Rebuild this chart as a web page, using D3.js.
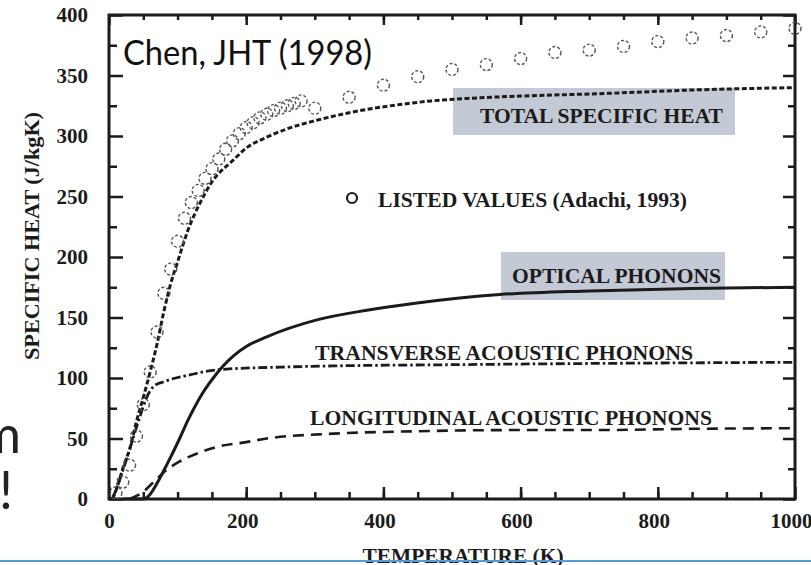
<!DOCTYPE html>
<html>
<head>
<meta charset="utf-8">
<script src="https://cdn.jsdelivr.net/npm/d3@7"></script>
<style>
  body { margin: 0; background: #fff; }
  svg { display: block; }
</style>
</head>
<body>
<svg id="chart" width="811" height="565"></svg>
<script>
// values (T in K, specific heat in J/kgK)
const totalT = [5, 12, 20, 31, 40, 50, 60, 70, 80, 90, 100, 115, 133, 150, 181, 200, 230, 260, 303, 340, 376, 424, 470, 521, 600, 716, 850, 1000];
const totalC = [0, 10, 25, 43, 64, 84, 105, 128, 155, 178, 196, 222, 245, 262, 280, 290, 299, 306, 313, 318, 322, 326, 329, 331, 333, 335, 338, 340];

const opticalT = [20, 50, 60, 70, 84, 103, 115, 123, 137, 152, 165, 181, 200, 230, 303, 376, 449, 570, 700, 850, 1000];
const opticalC = [0, 0, 4, 13, 28, 50, 65, 74, 88, 100, 109, 118, 126, 134, 148, 156, 162, 169, 172, 174, 175];

const transT = [5, 15, 25, 35, 45, 55, 65, 80, 113, 162, 250, 328, 500, 700, 1000];
const transC = [0, 15, 32, 50, 68, 84, 93, 97, 102, 107, 109, 110, 111, 112, 113];

const longT = [30, 50, 65, 84, 103, 130, 157, 200, 230, 327, 449, 600, 716, 850, 1000];
const longC = [0, 6, 14, 24, 31, 38, 43, 47, 50, 54, 56, 57, 57, 58, 58.5];

// listed values (Adachi, 1993)
const listedT = [10, 20, 30, 40, 50, 60, 70, 80, 90, 100, 110, 120, 130, 140, 150, 160, 170, 180, 190, 200, 210, 220, 230, 240, 250, 260, 270, 280,
                 300, 350, 400, 450, 500, 550, 600, 650, 700, 750, 800, 850, 900, 950, 1000];
const listedC = [5, 14, 28, 52, 78, 105, 138, 170, 190, 213, 232, 245, 255, 265, 273, 281, 289, 296, 302, 307, 311, 315, 318, 321, 323, 325, 327, 329,
                 323, 332, 342, 349, 355, 359, 364, 369, 371, 374, 378, 381, 383, 386, 389];

const xMajor = [0, 200, 400, 600, 800, 1000];
const yMajor = [0, 50, 100, 150, 200, 250, 300, 350, 400];

const serif = '"Liberation Serif", "Times New Roman", serif';
const ink = '#1b1b1b';

const svg = d3.select('#chart');

const x = d3.scaleLinear().domain([0, 1000]).range([109, 795]);
const y = d3.scaleLinear().domain([0, 400]).range([499, 15]);

// grey highlight boxes (sit under the scan)
svg.append('rect').attr('x', 453).attr('y', 88).attr('width', 282).attr('height', 47).attr('fill', '#c4cad5');
svg.append('rect').attr('x', 501).attr('y', 252).attr('width', 224).attr('height', 48).attr('fill', '#c4cad5');

// ticks
function styleAxis(g) {
    g.select('.domain').remove();
    g.selectAll('.tick line').attr('stroke', ink).attr('stroke-width', 2.5);
    g.selectAll('.tick text').attr('fill', ink).attr('font-family', serif)
        .attr('font-weight', 'bold').attr('font-size', 21);
}

svg.append('g').attr('transform', 'translate(0,499)')
    .call(d3.axisBottom(x).tickValues(d3.range(50, 1000, 50)).tickSize(-7).tickFormat(''))
    .call(styleAxis);
svg.append('g').attr('transform', 'translate(0,499)')
    .call(d3.axisBottom(x).tickValues(xMajor).tickSize(-12).tickPadding(14).tickFormat(d3.format('d')))
    .call(styleAxis)
    .selectAll('.tick text').attr('dx', d => d === 0 ? 0 : -4);

svg.append('g').attr('transform', 'translate(0,15)')
    .call(d3.axisTop(x).tickValues(d3.range(50, 1000, 50)).tickSize(-5).tickFormat(''))
    .call(styleAxis);
svg.append('g').attr('transform', 'translate(0,15)')
    .call(d3.axisTop(x).tickValues(xMajor).tickSize(-10).tickFormat(''))
    .call(styleAxis);

svg.append('g').attr('transform', 'translate(109,0)')
    .call(d3.axisLeft(y).tickValues(d3.range(25, 400, 50)).tickSize(-8).tickFormat(''))
    .call(styleAxis);
svg.append('g').attr('transform', 'translate(109,0)')
    .call(d3.axisLeft(y).tickValues(yMajor).tickSize(-14).tickPadding(21).tickFormat(d3.format('d')))
    .call(styleAxis);

svg.append('g').attr('transform', 'translate(795,0)')
    .call(d3.axisRight(y).tickValues(d3.range(25, 400, 50)).tickSize(-7).tickFormat(''))
    .call(styleAxis);
svg.append('g').attr('transform', 'translate(795,0)')
    .call(d3.axisRight(y).tickValues(yMajor).tickSize(-12).tickFormat(''))
    .call(styleAxis);

// frame
svg.append('rect').attr('x', 109).attr('y', 15).attr('width', 686).attr('height', 484)
    .attr('fill', 'none').attr('stroke', ink).attr('stroke-width', 3);

// curves
const line = d3.line().x(d => x(d[0])).y(d => y(d[1])).curve(d3.curveMonotoneX);

const curves = [
    { t: totalT, c: totalC, dash: '5,2.5', w: 3 },
    { t: opticalT, c: opticalC, dash: null, w: 3 },
    { t: transT, c: transC, dash: '9,3,2.5,3', w: 2.8 },
    { t: longT, c: longC, dash: '11,7', w: 2.6 }
];

curves.forEach(s => {
    svg.append('path')
        .datum(d3.zip(s.t, s.c))
        .attr('d', line)
        .attr('fill', 'none')
        .attr('stroke', ink)
        .attr('stroke-width', s.w)
        .attr('stroke-dasharray', s.dash);
});

// listed values
svg.append('g').selectAll('circle')
    .data(d3.zip(listedT, listedC))
    .join('circle')
    .attr('cx', d => x(d[0]))
    .attr('cy', d => y(d[1]))
    .attr('r', 6)
    .attr('fill', 'none')
    .attr('stroke', '#555')
    .attr('stroke-width', 1.4)
    .attr('stroke-dasharray', '3,2');

// labels inside the plot
const labels = [
    { text: 'TOTAL SPECIFIC HEAT', x: 480, y: 123, len: 243 },
    { text: 'LISTED VALUES (Adachi, 1993)', x: 378, y: 207, len: 309 },
    { text: 'OPTICAL PHONONS', x: 512, y: 283, len: 209 },
    { text: 'TRANSVERSE ACOUSTIC PHONONS', x: 315, y: 360, len: 378 },
    { text: 'LONGITUDINAL ACOUSTIC PHONONS', x: 310, y: 425, len: 402 }
];

svg.append('g').selectAll('text')
    .data(labels)
    .join('text')
    .attr('x', d => d.x)
    .attr('y', d => d.y)
    .attr('textLength', d => d.len)
    .attr('lengthAdjust', 'spacingAndGlyphs')
    .attr('font-family', serif)
    .attr('font-weight', 'bold')
    .attr('font-size', 21)
    .attr('fill', ink)
    .text(d => d.text);

svg.append('circle').attr('cx', 352).attr('cy', 198).attr('r', 5)
    .attr('fill', 'none').attr('stroke', ink).attr('stroke-width', 2.2);

// axis titles
svg.append('text')
    .attr('transform', 'translate(39,236) rotate(-90)')
    .attr('text-anchor', 'middle')
    .attr('textLength', 248)
    .attr('lengthAdjust', 'spacingAndGlyphs')
    .attr('font-family', serif).attr('font-weight', 'bold').attr('font-size', 20)
    .attr('fill', ink)
    .text('SPECIFIC HEAT (J/kgK)');

svg.append('text')
    .attr('x', 463).attr('y', 563)
    .attr('text-anchor', 'middle')
    .attr('textLength', 201)
    .attr('lengthAdjust', 'spacingAndGlyphs')
    .attr('font-family', serif).attr('font-weight', 'bold').attr('font-size', 21)
    .attr('fill', ink)
    .text('TEMPERATURE (K)');

// slide text over the figure
svg.append('text')
    .attr('x', 123).attr('y', 65)
    .attr('textLength', 249)
    .attr('lengthAdjust', 'spacingAndGlyphs')
    .attr('font-family', 'Lato, "Open Sans", sans-serif').attr('font-size', 34)
    .attr('fill', '#111')
    .text('Chen, JHT (1998)');

svg.append('text').attr('x', 21).attr('y', 453).attr('text-anchor', 'end')
    .attr('font-family', 'Lato, "Open Sans", sans-serif').attr('font-size', 52).attr('fill', '#222')
    .text('m');
svg.append('text').attr('x', 13).attr('y', 509).attr('text-anchor', 'end')
    .attr('font-family', 'Lato, "Open Sans", sans-serif').attr('font-size', 52).attr('fill', '#222')
    .text('!');

svg.append('line').attr('x1', 0).attr('x2', 811).attr('y1', 561).attr('y2', 561)
    .attr('stroke', '#5b9bd5').attr('stroke-width', 2);
</script>
</body>
</html>
